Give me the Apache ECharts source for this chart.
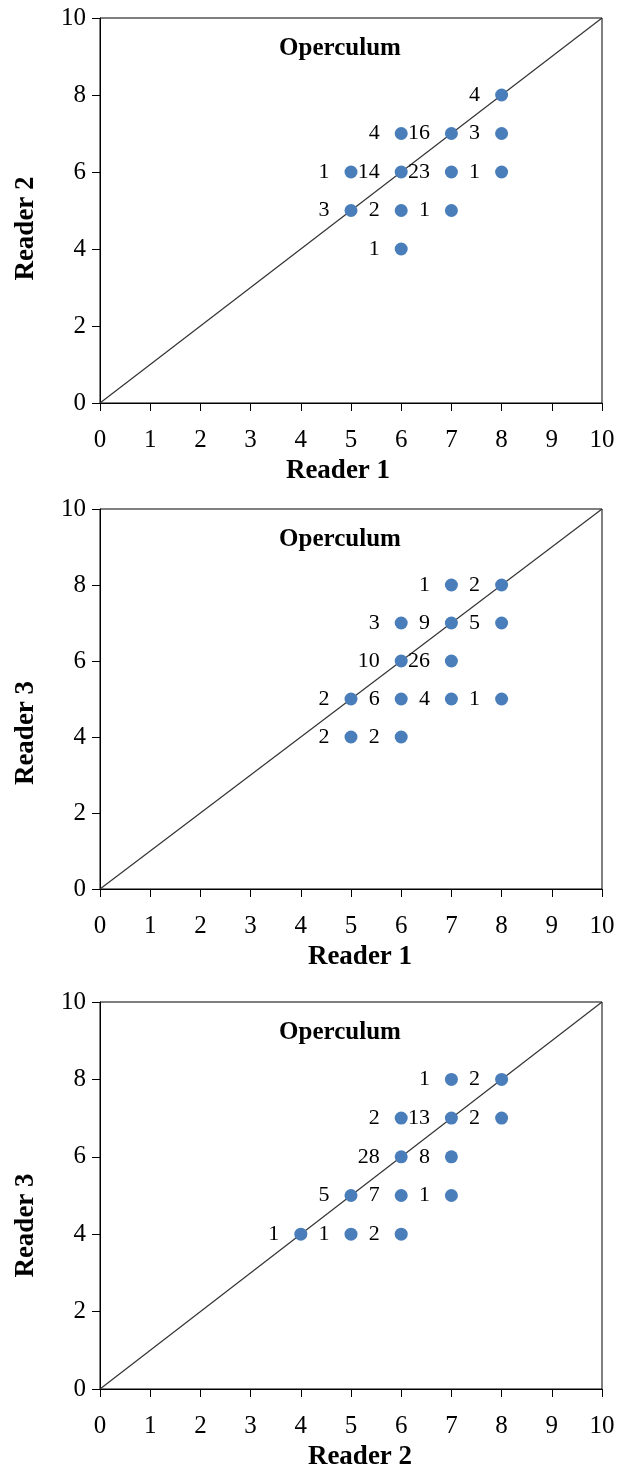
<!DOCTYPE html>
<html>
<head>
<meta charset="utf-8">
<script src="https://cdn.jsdelivr.net/npm/echarts@6/dist/echarts.min.js"></script>
<style>
html,body{margin:0;padding:0;background:#fff}
#main{width:621px;height:1476px}
</style>
</head>
<body>
<div id="main"></div>
<script>
(function(){
var titleText = 'Operculum';
var xNames = ['Reader 1', 'Reader 1', 'Reader 2'];
var yNames = ['Reader 2', 'Reader 3', 'Reader 3'];

// reader 1 (x) vs reader 2 (y)
var p1X = [8, 6, 7, 8, 5, 6, 7, 8, 5, 6, 7, 6];
var p1Y = [8, 7, 7, 7, 6, 6, 6, 6, 5, 5, 5, 4];
var p1N = [4, 4, 16, 3, 1, 14, 23, 1, 3, 2, 1, 1];
// reader 1 (x) vs reader 3 (y)
var p2X = [7, 8, 6, 7, 8, 6, 7, 5, 6, 7, 8, 5, 6];
var p2Y = [8, 8, 7, 7, 7, 6, 6, 5, 5, 5, 5, 4, 4];
var p2N = [1, 2, 3, 9, 5, 10, 26, 2, 6, 4, 1, 2, 2];
// reader 2 (x) vs reader 3 (y)
var p3X = [7, 8, 6, 7, 8, 6, 7, 5, 6, 7, 4, 5, 6];
var p3Y = [8, 8, 7, 7, 7, 6, 6, 5, 5, 5, 4, 4, 4];
var p3N = [1, 2, 2, 13, 2, 28, 8, 5, 7, 1, 1, 1, 2];

var diagonal = [[0, 0], [10, 10]];

var plots = [[p1X, p1Y, p1N], [p2X, p2Y, p2N], [p3X, p3Y, p3N]];

// layout
var gridTop = [18, 509, 1002];
var gridH = [385, 380, 387];
var yNameShift = [18, 34, 30];
var xNameShift = [-13, 9, 9];

var font = '"Liberation Serif", "Times New Roman", serif';
var myChart = echarts.init(document.getElementById('main'));

var grid = [], xAxis = [], yAxis = [], series = [], title = [];

for (var i = 0; i < 3; i++) {
    grid.push({
        left: 100, width: 502, top: gridTop[i], height: gridH[i],
        show: true, borderColor: '#000', borderWidth: 1, backgroundColor: 'transparent'
    });
    title.push({
        text: titleText, left: 335, top: gridTop[i] + 13, textAlign: 'center',
        textStyle: {fontFamily: font, fontSize: 25, fontWeight: 'bold', color: '#000'}
    });
    var xs = xNameShift[i];
    xAxis.push({
        gridIndex: i, type: 'value', min: 0, max: 10, interval: 1,
        name: xNames[i], nameLocation: 'middle', nameGap: 55,
        nameTextStyle: {
            fontFamily: font, fontSize: 27, fontWeight: 'bold', color: '#000',
            padding: xs < 0 ? [0, -2 * xs, 0, 0] : [0, 0, 0, 2 * xs]
        },
        axisLine: {show: true, lineStyle: {color: '#000', width: 1}},
        axisTick: {show: true, inside: false, length: 8, lineStyle: {color: '#000'}},
        axisLabel: {fontFamily: font, fontSize: 25, color: '#000', margin: 25},
        splitLine: {show: false}
    });
    yAxis.push({
        gridIndex: i, type: 'value', min: 0, max: 10, interval: 2,
        name: yNames[i], nameLocation: 'middle', nameGap: 60,
        nameTextStyle: {
            fontFamily: font, fontSize: 27, fontWeight: 'bold', color: '#000',
            padding: [0, 2 * yNameShift[i], 0, 0]
        },
        axisLine: {show: true, lineStyle: {color: '#000', width: 1}},
        axisTick: {show: true, inside: false, length: 8, lineStyle: {color: '#000'}},
        axisLabel: {fontFamily: font, fontSize: 25, color: '#000', margin: 14},
        splitLine: {show: false}
    });
    series.push({
        type: 'line', xAxisIndex: i, yAxisIndex: i,
        data: diagonal, symbol: 'none', silent: true,
        lineStyle: {color: '#333', width: 1.2}, z: 2
    });
    var pts = [];
    for (var k = 0; k < plots[i][0].length; k++) {
        pts.push([plots[i][0][k], plots[i][1][k], plots[i][2][k]]);
    }
    series.push({
        type: 'scatter', xAxisIndex: i, yAxisIndex: i,
        data: pts, symbolSize: 13, z: 3,
        itemStyle: {color: '#4a7ebb', opacity: 1},
        label: {
            show: true, position: 'left', distance: 15,
            fontFamily: font, fontSize: 22, color: '#000',
            formatter: function (p) { return p.value[2]; }
        }
    });
}

option = {
    animation: false,
    backgroundColor: '#fff',
    title: title,
    grid: grid,
    xAxis: xAxis,
    yAxis: yAxis,
    series: series
};

myChart.setOption(option);
})();
</script>
</body>
</html>
